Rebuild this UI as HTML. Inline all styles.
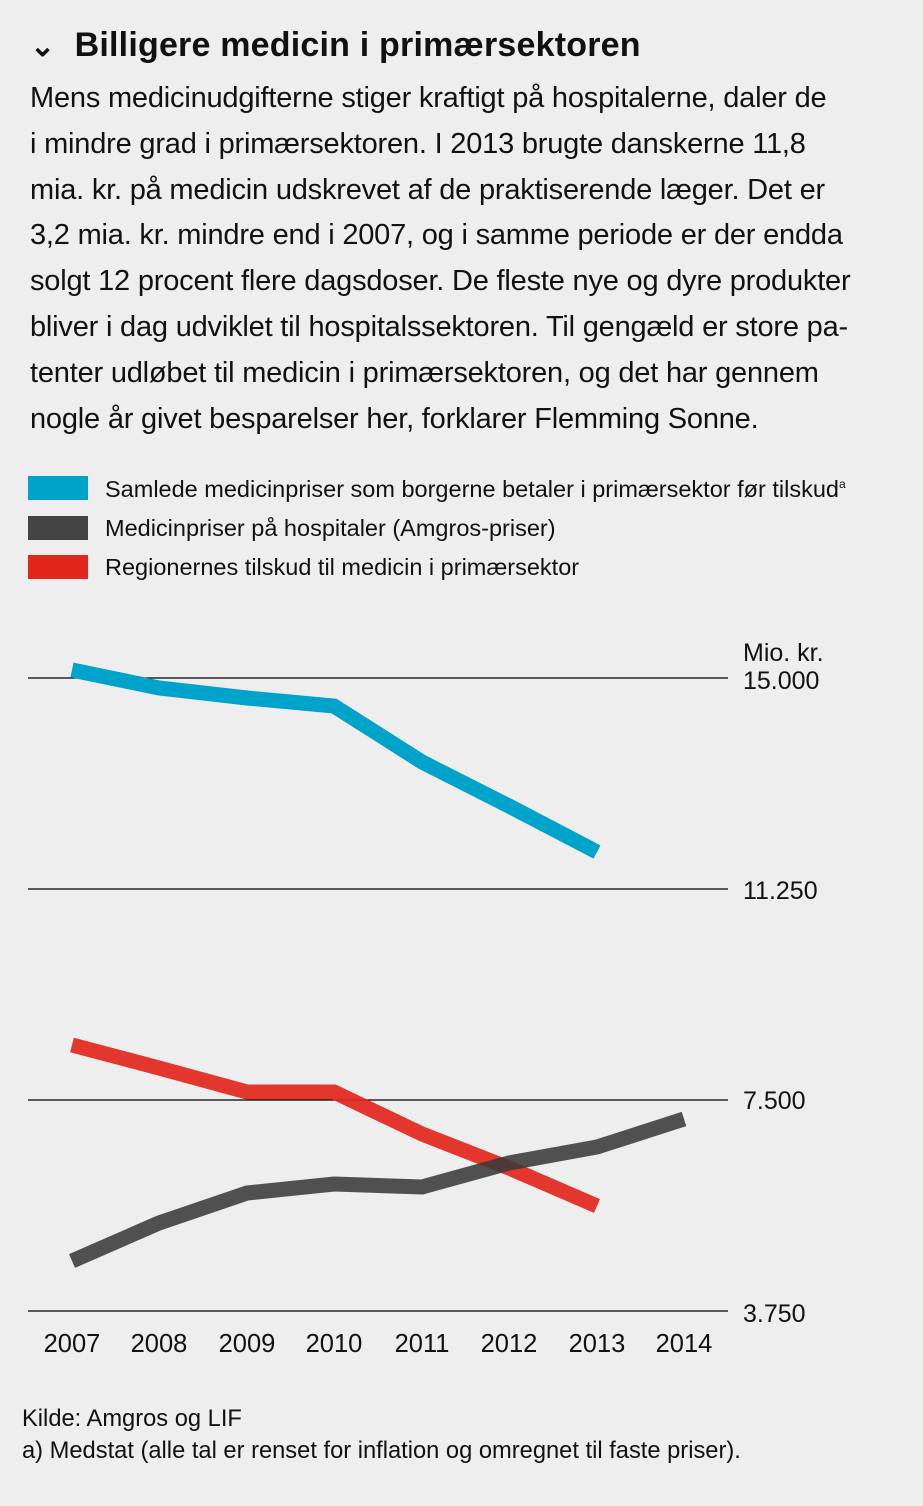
<!DOCTYPE html>
<html><head><meta charset="utf-8"><style>
body{margin:0;background:#eeeeee;width:923px;height:1506px;overflow:hidden;font-family:"Liberation Sans",sans-serif;color:#111;}
.t{position:absolute;white-space:nowrap;}
</style></head><body>
<div class="t" style="left:30px;top:26px;font-size:34px;font-weight:bold;letter-spacing:0.2px;"><span style="font-size:30px;">&#8964;</span>&nbsp; Billigere medicin i primærsektoren</div>
<div class="t" style="left:30px;top:76px;font-size:29px;line-height:45.8px;letter-spacing:-0.2px;">Mens medicinudgifterne stiger kraftigt på hospitalerne, daler de<br>i mindre grad i primærsektoren. I 2013 brugte danskerne 11,8<br>mia. kr. på medicin udskrevet af de praktiserende læger. Det er<br>3,2 mia. kr. mindre end i 2007, og i samme periode er der endda<br>solgt 12 procent flere dagsdoser. De fleste nye og dyre produkter<br>bliver i dag udviklet til hospitalssektoren. Til gengæld er store pa-<br>tenter udløbet til medicin i primærsektoren, og det har gennem<br>nogle år givet besparelser her, forklarer Flemming Sonne.</div>
<svg width="923" height="1506" style="position:absolute;left:0;top:0" font-family="Liberation Sans, sans-serif">
<rect x="28" y="476" width="60" height="24" fill="#00a3c9"/>
<rect x="28" y="516" width="60" height="24" fill="#444"/>
<rect x="28" y="555" width="60" height="24" fill="#e2261c"/>
<g font-size="23.5" fill="#111">
<text x="105" y="497">Samlede medicinpriser som borgerne betaler i  primærsektor  før tilskud<tspan font-size="12" dy="-9">a</tspan></text>
<text x="105" y="536">Medicinpriser på hospitaler (Amgros-priser)</text>
<text x="105" y="575">Regionernes tilskud til medicin i primærsektor</text>
</g>
<g stroke="#000" stroke-width="1.2">
<line x1="28" y1="678" x2="728" y2="678"/><line x1="28" y1="889" x2="728" y2="889"/>
<line x1="28" y1="1100" x2="728" y2="1100"/><line x1="28" y1="1311" x2="728" y2="1311"/>
</g>
<g font-size="25" fill="#111">
<text x="743" y="661">Mio. kr.</text><text x="743" y="689">15.000</text>
<text x="743" y="899">11.250</text><text x="743" y="1109">7.500</text><text x="743" y="1322">3.750</text>
</g>
<g fill="none" stroke-width="15" stroke-linejoin="miter">
<polyline stroke="#00a3c9" points="72,670 159,688 247,698 334,706 422,762 509,806 597,852"/>
<polyline stroke="#e2261c" opacity="0.92" points="72,1045 159,1068 247,1092 334,1092 422,1134 509,1168 597,1206"/>
<polyline stroke="#3a3a3a" opacity="0.88" points="72,1261 159,1223 247,1193 334,1184 422,1187 509,1163 597,1147 684,1119"/>
</g>
<g font-size="25.5" fill="#111" text-anchor="middle">
<text x="72" y="1352">2007</text><text x="159" y="1352">2008</text><text x="247" y="1352">2009</text><text x="334" y="1352">2010</text>
<text x="422" y="1352">2011</text><text x="509" y="1352">2012</text><text x="597" y="1352">2013</text><text x="684" y="1352">2014</text>
</g>
<g font-size="23.7" fill="#111">
<text x="22" y="1426">Kilde: Amgros og LIF</text>
<text x="22" y="1458">a) Medstat (alle tal er renset for inflation og omregnet til faste priser).</text>
</g>
</svg>
</body></html>
